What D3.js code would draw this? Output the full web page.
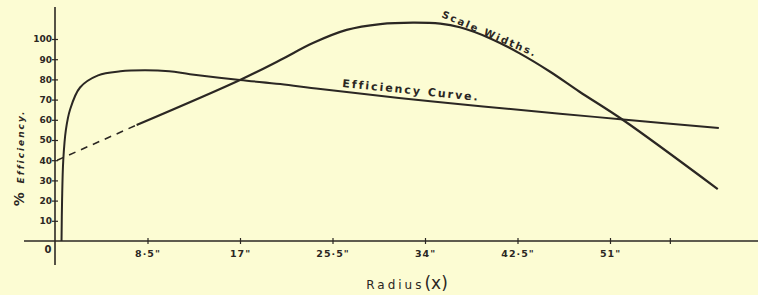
<!DOCTYPE html>
<html>
<head>
<meta charset="utf-8">
<script src="https://cdn.jsdelivr.net/npm/d3@7"></script>
<style>
  html, body { margin: 0; padding: 0; background: #fcfcd3; }
  svg { display: block; }
  .ink { fill: #2b2723; font-family: "DejaVu Sans", sans-serif; }
</style>
</head>
<body>
<div id="chart"></div>
<script>
// Radius (inches) tick values and labels
const xTicks = [8.5, 17, 25.5, 34, 42.5, 51, 56.5];
const xTickLabels = ['8·5"', '17"', '25·5"', '34"', '42·5"', '51"', ''];
const yTicks = [10, 20, 30, 40, 50, 60, 70, 80, 90, 100];

// Efficiency curve (radius, % efficiency)
const effX = [0.6, 0.65, 0.76, 1.0, 1.38, 2.3, 3.96, 6.0, 8.3, 10.5, 12.4, 17, 20.7, 24.4, 34.5, 46.4, 52.2, 61.0];
const effY = [0, 20, 40, 55, 65, 76, 82, 84, 84.5, 84, 82.6, 79.7, 77.7, 75.2, 69.2, 63.0, 60.2, 55.9];

// Scale widths (dashed part then solid part)
const dashX = [0.2, 7.5];
const dashY = [40, 57.4];
const scaleX = [7.5, 17, 20.7, 23.7, 26.8, 29.9, 32.9, 35.4, 37.2, 40.0, 42.7, 45.5, 48.2, 52.2, 60.9];
const scaleY = [57.4, 79.7, 89.6, 98, 104.5, 107.4, 108.1, 107.6, 105.8, 100.3, 92.9, 83.8, 73.9, 59.9, 25.7];

const width = 758, height = 295;
const ink = '#2b2723';

const svg = d3.select('#chart').append('svg')
    .attr('width', width)
    .attr('height', height);

const x = d3.scaleLinear().domain([0, 51]).range([55, 610]);
const y = d3.scaleLinear().domain([0, 100]).range([241, 39]);

// axis lines
svg.append('line')
    .attr('x1', 24).attr('x2', width)
    .attr('y1', y(0)).attr('y2', y(0))
    .attr('stroke', ink).attr('stroke-width', 1.6);
svg.append('line')
    .attr('x1', x(0)).attr('x2', x(0))
    .attr('y1', 7).attr('y2', 265)
    .attr('stroke', ink).attr('stroke-width', 1.6);

// x ticks
const xAxis = svg.append('g')
    .attr('transform', `translate(0,${y(0)})`)
    .call(d3.axisBottom(x).tickValues(xTicks).tickSize(3)
        .tickFormat((d, i) => xTickLabels[i]));
xAxis.select('.domain').remove();
xAxis.selectAll('.tick line').attr('y1', -3).attr('y2', 3)
    .attr('stroke', ink).attr('stroke-width', 1.2);
xAxis.selectAll('.tick text')
    .attr('class', 'ink')
    .attr('y', 9)
    .attr('font-size', 9.5).attr('font-weight', 'bold')
    .attr('letter-spacing', 1);

// y ticks
const yAxis = svg.append('g')
    .attr('transform', `translate(${x(0)},0)`)
    .call(d3.axisLeft(y).tickValues(yTicks).tickSize(3));
yAxis.select('.domain').remove();
yAxis.selectAll('.tick line').attr('x1', -3).attr('x2', 3)
    .attr('stroke', ink).attr('stroke-width', 1.2);
yAxis.selectAll('.tick text')
    .attr('class', 'ink')
    .attr('x', -3)
    .attr('font-size', 9).attr('font-weight', 'bold');

// origin label
svg.append('text').attr('class', 'ink')
    .attr('x', 48).attr('y', 253)
    .attr('text-anchor', 'middle')
    .attr('font-size', 10).attr('font-weight', 'bold')
    .text('0');

const line = d3.line()
    .x(d => x(d[0]))
    .y(d => y(d[1]))
    .curve(d3.curveCatmullRom.alpha(0.5));

svg.append('path')
    .datum(effX.map((v, i) => [v, effY[i]]))
    .attr('d', line)
    .attr('fill', 'none').attr('stroke', ink).attr('stroke-width', 2);

svg.append('path')
    .datum(dashX.map((v, i) => [v, dashY[i]]))
    .attr('d', d3.line().x(d => x(d[0])).y(d => y(d[1])))
    .attr('fill', 'none').attr('stroke', ink).attr('stroke-width', 1.6)
    .attr('stroke-dasharray', '7,6');

svg.append('path')
    .datum(scaleX.map((v, i) => [v, scaleY[i]]))
    .attr('d', line)
    .attr('fill', 'none').attr('stroke', ink).attr('stroke-width', 2.2);

// curve labels
svg.append('text').attr('class', 'ink')
    .attr('transform', 'translate(441,17) rotate(23)')
    .attr('font-size', 10).attr('font-weight', 'bold')
    .attr('letter-spacing', 2)
    .text('Scale Widths.');

svg.append('text').attr('class', 'ink')
    .attr('transform', 'translate(342,87) rotate(5.8)')
    .attr('font-size', 11).attr('font-weight', 'bold')
    .attr('letter-spacing', 2)
    .text('Efficiency Curve.');

// axis titles
svg.append('text').attr('class', 'ink')
    .attr('x', 407).attr('y', 289)
    .attr('text-anchor', 'middle')
    .attr('font-size', 12)
    .attr('letter-spacing', 3)
    .text('Radius')
    .append('tspan').attr('font-size', 17).attr('letter-spacing', 0).text('(x)');

svg.append('text').attr('class', 'ink')
    .attr('transform', 'translate(24,158) rotate(-90)')
    .attr('text-anchor', 'middle')
    .attr('font-size', 9).attr('font-weight', 'bold')
    .attr('letter-spacing', 2)
    .text('')
    .call(t => {
        t.append('tspan').attr('font-size', 14).text('% ');
        t.append('tspan').attr('font-style', 'italic').text('Efficiency.');
    });
</script>
</body>
</html>
